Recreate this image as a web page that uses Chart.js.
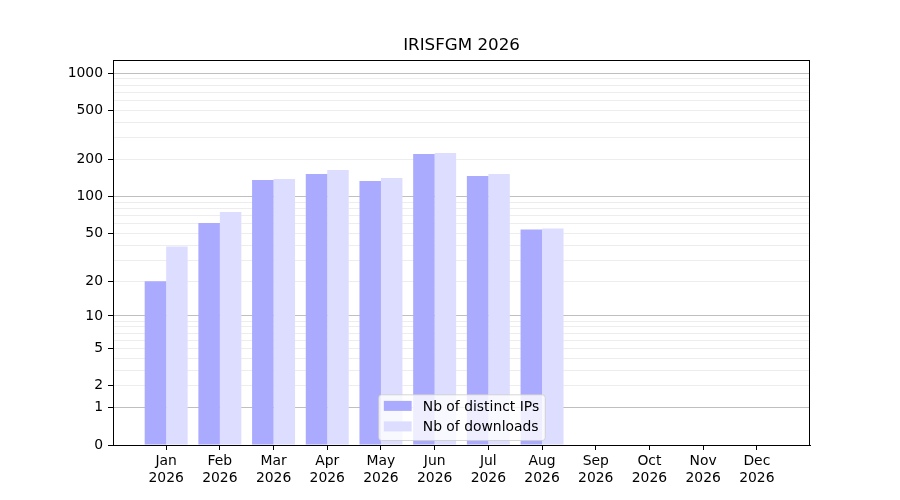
<!DOCTYPE html>
<html lang="en">
<head>
    <meta charset="UTF-8">
    <title>IRISFGM 2026</title>
    <script src="https://cdn.jsdelivr.net/npm/chart.js"></script>
    <style>
        html, body { margin: 0; padding: 0; background: #fff; }
        .chart-box { width: 900px; height: 500px; position: relative; }
    </style>
</head>
<body>
    <div class="chart-box">
        <canvas id="statsChart"></canvas>
    </div>

    <script>
        // data
        const chartTitle = 'IRISFGM 2026';
        const months = ['Jan', 'Feb', 'Mar', 'Apr', 'May', 'Jun', 'Jul', 'Aug', 'Sep', 'Oct', 'Nov', 'Dec'];
        const years = ['2026', '2026', '2026', '2026', '2026', '2026', '2026', '2026', '2026', '2026', '2026', '2026'];
        const distinctIPs = [20, 61, 137, 153, 134, 222, 147, 54, 0, 0, 0, 0];
        const downloads = [39, 75, 139, 165, 142, 226, 153, 55, 0, 0, 0, 0];

        // y axis: labelled ticks, darker and lighter grid lines
        const yTickLabels = [0, 1, 2, 5, 10, 20, 50, 100, 200, 500, 1000];
        const yMajorGrid = [1, 10, 100, 1000];
        const yMinorGrid = [2, 3, 4, 5, 6, 7, 8, 9, 20, 30, 40, 50, 60, 70, 80, 90, 200, 300, 400, 500, 600, 700, 800, 900];
        const yTicks = [...new Set([...yTickLabels, ...yMajorGrid, ...yMinorGrid])].sort((a, b) => a - b);

        const FONT = '"DejaVu Sans", sans-serif';

        // scale where pixel ~ log10(1 + value)
        class Log1pScale extends Chart.LinearScale {
            static id = 'log1p';
            static defaults = {};
            buildTicks() {
                return yTicks.map(v => ({ value: v }));
            }
            configure() {
                super.configure();
                this._t0 = Math.log10(1 + this.min);
                this._t1 = Math.log10(1 + this.max);
            }
            getPixelForValue(value) {
                const t = (Math.log10(1 + value) - this._t0) / (this._t1 - this._t0);
                return this.getPixelForDecimal(t);
            }
            getValueForPixel(pixel) {
                const t = this._t0 + this.getDecimalForPixel(pixel) * (this._t1 - this._t0);
                return Math.pow(10, t) - 1;
            }
        }
        Chart.register(Log1pScale);

        // frame, title and the legend inside the plot
        const decorations = {
            id: 'decorations',
            afterDraw(chart) {
                const ctx = chart.ctx;
                const a = chart.chartArea;
                ctx.save();

                ctx.strokeStyle = '#000';
                ctx.lineWidth = 1;
                ctx.strokeRect(Math.round(a.left) + 0.5, Math.round(a.top) + 0.5,
                    Math.round(a.right - a.left) - 1, Math.round(a.bottom - a.top));

                ctx.fillStyle = '#000';
                ctx.font = '16.7px ' + FONT;
                ctx.textAlign = 'center';
                ctx.textBaseline = 'middle';
                ctx.fillText(chartTitle, (a.left + a.right) / 2, a.top - 14);

                // legend
                ctx.font = '13.9px ' + FONT;
                const sets = chart.data.datasets;
                const textW = Math.max(...sets.map(d => ctx.measureText(d.label).width));
                const pad = 5.6, handleW = 27.8, handleGap = 11.1, rowH = 20.5;
                const boxW = pad * 2 + handleW + handleGap + textW;
                const boxH = pad * 2 + rowH * sets.length - 6.5;
                const bx = (a.left + a.right) / 2 - boxW / 2;
                const by = a.bottom - 5 - boxH;

                ctx.beginPath();
                if (ctx.roundRect) ctx.roundRect(bx + 0.5, by + 0.5, boxW, boxH, 3);
                else ctx.rect(bx + 0.5, by + 0.5, boxW, boxH);
                ctx.fillStyle = 'rgba(255,255,255,0.8)';
                ctx.fill();
                ctx.strokeStyle = 'rgba(204,204,204,0.8)';
                ctx.stroke();

                ctx.textAlign = 'left';
                sets.forEach((d, i) => {
                    const cy = by + pad + 6 + i * rowH;
                    ctx.fillStyle = d.backgroundColor;
                    ctx.fillRect(bx + pad, cy - 5, handleW, 10);
                    ctx.fillStyle = '#000';
                    ctx.fillText(d.label, bx + pad + handleW + handleGap, cy + 1);
                });

                ctx.restore();
            }
        };

        window.onload = function() {
            new Chart(document.getElementById('statsChart'), {
                type: 'bar',
                data: {
                    datasets: [{
                        label: 'Nb of distinct IPs',
                        data: distinctIPs.map((v, i) => ({ x: i, y: v })),
                        backgroundColor: 'rgb(170,170,255)',
                        borderWidth: 0,
                        categoryPercentage: 0.8,
                        barPercentage: 1.0
                    }, {
                        label: 'Nb of downloads',
                        data: downloads.map((v, i) => ({ x: i, y: v })),
                        backgroundColor: 'rgb(221,221,255)',
                        borderWidth: 0,
                        categoryPercentage: 0.8,
                        barPercentage: 1.0
                    }]
                },
                options: {
                    responsive: true,
                    maintainAspectRatio: false,
                    animation: false,
                    layout: { padding: { top: 60, right: 90, left: 0, bottom: 0 } },
                    plugins: {
                        legend: { display: false },
                        title: { display: false },
                        tooltip: { enabled: false }
                    },
                    scales: {
                        x: {
                            type: 'linear',
                            min: -0.99,
                            max: 11.99,
                            offset: false,
                            grid: {
                                offset: false,
                                drawOnChartArea: false,
                                tickLength: 5,
                                tickColor: '#000'
                            },
                            border: { color: '#000', width: 1 },
                            afterBuildTicks: scale => {
                                scale.ticks = months.map((m, i) => ({ value: i }));
                            },
                            afterFit: scale => { scale.height = 55; },
                            ticks: {
                                autoSkip: false,
                                maxRotation: 0,
                                padding: 3,
                                color: '#000',
                                font: { family: FONT, size: 13.9, lineHeight: 1.2 },
                                callback: value => [months[value], years[value]]
                            }
                        },
                        y: {
                            type: 'log1p',
                            min: 0,
                            max: 1280,
                            z: 1,
                            grid: {
                                lineWidth: 1,
                                tickLength: 5,
                                color: ctx => {
                                    const v = ctx.tick ? ctx.tick.value : null;
                                    if (yMajorGrid.includes(v)) return 'rgba(0,0,0,0.25)';
                                    if (yMinorGrid.includes(v)) return 'rgba(0,0,0,0.07)';
                                    return 'rgba(0,0,0,0)';
                                },
                                tickColor: ctx => (ctx.tick && yTickLabels.includes(ctx.tick.value)) ? '#000' : 'rgba(0,0,0,0)'
                            },
                            border: { color: '#000', width: 1 },
                            afterFit: scale => { scale.width = 113; },
                            ticks: {
                                autoSkip: false,
                                padding: 5,
                                color: '#000',
                                font: { family: FONT, size: 13.9 },
                                callback: value => yTickLabels.includes(value) ? String(value) : ''
                            }
                        }
                    }
                },
                plugins: [decorations]
            });
        };
    </script>
</body>
</html>
